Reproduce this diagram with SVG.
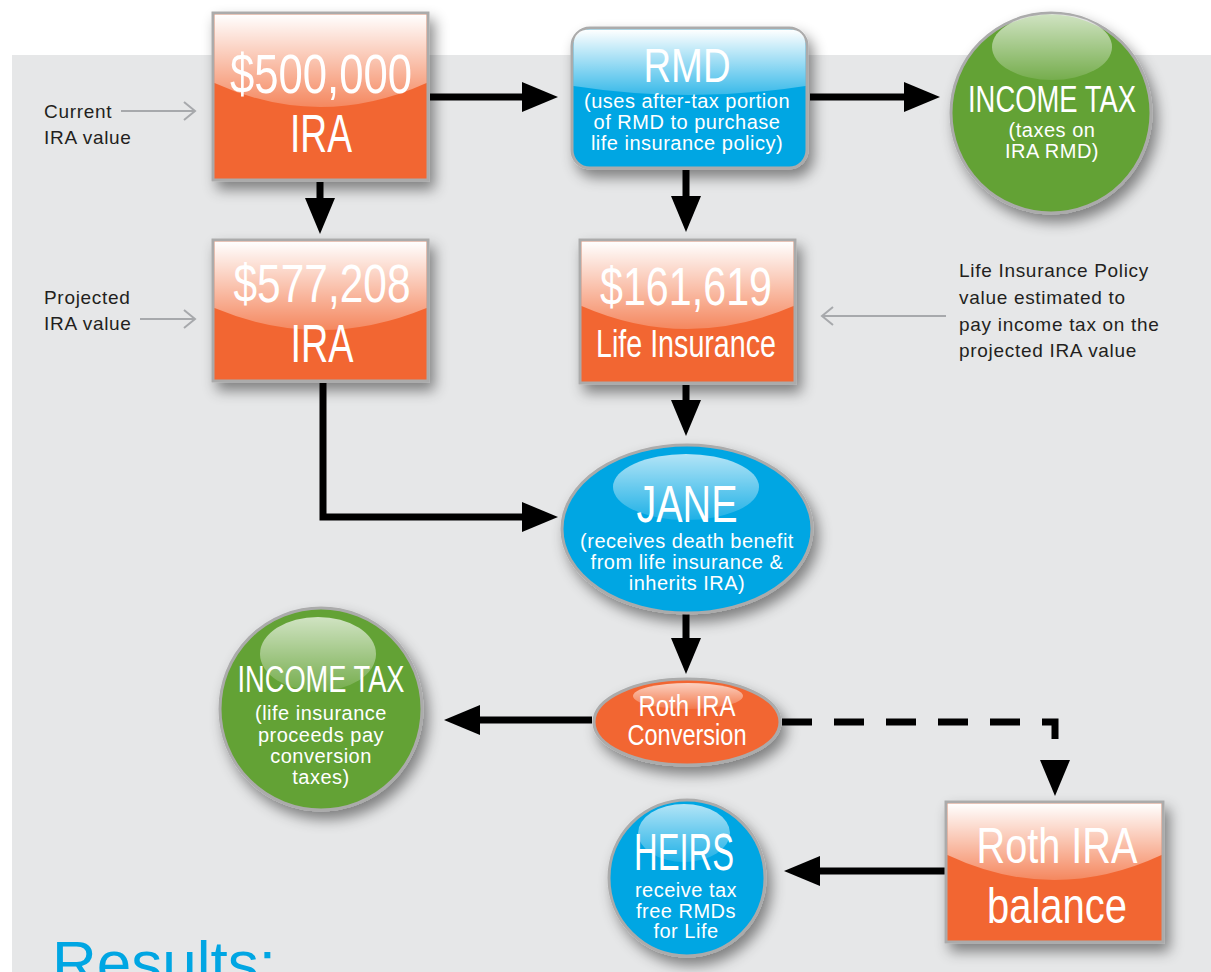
<svg xmlns="http://www.w3.org/2000/svg" width="1211" height="972" viewBox="0 0 1211 972">
  <style>
    .orange { fill: #F26633; stroke: #ABABAB; stroke-width: 3; }
    .blue { fill: #00A6E3; stroke: #ABABAB; stroke-width: 3; }
    .green { fill: #63A234; stroke: #ABABAB; stroke-width: 3; }
    .title { font-family: "Liberation Sans", Arial, sans-serif; fill: #FFFFFF; text-anchor: middle; }
    .sub { font-family: "Liberation Sans", Arial, sans-serif; fill: #FFFFFF; text-anchor: middle; font-size: 20px; letter-spacing: 0.5px; }
    .note { font-family: "Liberation Sans", Arial, sans-serif; fill: #231F20; font-size: 19px; letter-spacing: 0.7px; }
    .flow { fill: none; stroke: #000000; stroke-width: 7; marker-end: url(#head); }
    .pointer { fill: none; stroke: #A7A9AC; stroke-width: 2; marker-end: url(#chev); }
  </style>
  <defs>
    <filter id="shadow" x="-20%" y="-20%" width="150%" height="150%">
      <feDropShadow dx="5" dy="8" stdDeviation="7" flood-color="#000000" flood-opacity="0.45"/>
    </filter>
    <linearGradient id="gloss" x1="0" y1="0" x2="0" y2="1">
      <stop offset="0" stop-color="#FFFFFF" stop-opacity="1"/>
      <stop offset="1" stop-color="#FFFFFF" stop-opacity="0.22"/>
    </linearGradient>
    <linearGradient id="shine" x1="0" y1="0" x2="0" y2="1">
      <stop offset="0" stop-color="#FFFFFF" stop-opacity="0.7"/>
      <stop offset="1" stop-color="#FFFFFF" stop-opacity="0.12"/>
    </linearGradient>
    <marker id="head" markerUnits="userSpaceOnUse" markerWidth="38" markerHeight="30" refX="0" refY="15" orient="auto">
      <path d="M0,0 L36,15 L0,30 Z" fill="#000000"/>
    </marker>
    <marker id="chev" markerUnits="userSpaceOnUse" markerWidth="14" markerHeight="20" refX="12" refY="10" orient="auto">
      <path d="M1,1 L12,10 L1,19" fill="none" stroke="#A7A9AC" stroke-width="2"/>
    </marker>
  </defs>

  <!-- page -->
  <rect x="0" y="0" width="1211" height="972" fill="#FFFFFF"/>
  <rect x="12" y="55" width="1199" height="917" fill="#E6E7E8"/>

  <!-- side notes -->
  <g id="note-current">
    <text class="note" x="44" y="118">Current</text>
    <text class="note" x="44" y="144">IRA value</text>
    <path class="pointer" d="M121,111 H195"/>
  </g>
  <g id="note-projected">
    <text class="note" x="44" y="304">Projected</text>
    <text class="note" x="44" y="330">IRA value</text>
    <path class="pointer" d="M140,319 H195"/>
  </g>
  <g id="note-policy">
    <text class="note" x="959" y="277">Life Insurance Policy</text>
    <text class="note" x="959" y="304">value estimated to</text>
    <text class="note" x="959" y="331">pay income tax on the</text>
    <text class="note" x="959" y="357">projected IRA value</text>
    <path class="pointer" d="M946,316 H822"/>
  </g>

  <!-- connectors -->
  <g id="connectors">
    <path class="flow" d="M430,97 H522"/>
    <path class="flow" d="M810,97 H904"/>
    <path class="flow" d="M320,182 V198"/>
    <path class="flow" d="M686,170 V196"/>
    <path class="flow" d="M686,385 V400"/>
    <path class="flow" d="M323,383 V517 H522"/>
    <path class="flow" d="M686,614 V638"/>
    <path class="flow" d="M592,720 H480"/>
    <path class="flow" d="M782,722 H1055 V760" stroke-dasharray="30 22"/>
    <path class="flow" d="M946,871 H820"/>
  </g>

  <!-- current IRA -->
  <g id="ira-current">
    <rect class="orange" x="213" y="13" width="215" height="167" filter="url(#shadow)"/>
    <path d="M214.5,14.5 H426.5 V83 Q320,131 214.5,83 Z" fill="url(#gloss)"/>
    <text class="title" x="321" y="93" font-size="56" textLength="182" lengthAdjust="spacingAndGlyphs">$500,000</text>
    <text class="title" x="321" y="152" font-size="54" textLength="62" lengthAdjust="spacingAndGlyphs">IRA</text>
  </g>

  <!-- RMD -->
  <g id="rmd">
    <rect class="blue" x="572" y="28" width="235" height="140" rx="18" ry="18" filter="url(#shadow)"/>
    <path d="M590,29.5 H789 Q805.5,29.5 805.5,46 V86 Q690,104 573.5,86 V46 Q573.5,29.5 590,29.5 Z" fill="url(#gloss)"/>
    <text class="title" x="687" y="82" font-size="48" textLength="87" lengthAdjust="spacingAndGlyphs">RMD</text>
    <text class="sub" x="687" y="108">(uses after-tax portion</text>
    <text class="sub" x="687" y="129">of RMD to purchase</text>
    <text class="sub" x="687" y="150">life insurance policy)</text>
  </g>

  <!-- income tax on RMD -->
  <g id="tax-rmd">
    <circle class="green" cx="1051" cy="113" r="100" filter="url(#shadow)"/>
    <ellipse cx="1052" cy="47" rx="60" ry="33" fill="url(#shine)"/>
    <text class="title" x="1052" y="112" font-size="37" textLength="168" lengthAdjust="spacingAndGlyphs">INCOME TAX</text>
    <text class="sub" x="1052" y="137">(taxes on</text>
    <text class="sub" x="1052" y="158">IRA RMD)</text>
  </g>

  <!-- projected IRA -->
  <g id="ira-projected">
    <rect class="orange" x="213" y="240" width="215" height="141" filter="url(#shadow)"/>
    <path d="M214.5,241.5 H426.5 V308 Q320,352 214.5,308 Z" fill="url(#gloss)"/>
    <text class="title" x="322" y="302" font-size="54" textLength="177" lengthAdjust="spacingAndGlyphs">$577,208</text>
    <text class="title" x="322" y="362" font-size="54" textLength="63" lengthAdjust="spacingAndGlyphs">IRA</text>
  </g>

  <!-- life insurance -->
  <g id="life-insurance">
    <rect class="orange" x="580" y="240" width="215" height="143" filter="url(#shadow)"/>
    <path d="M581.5,241.5 H793.5 V306 Q687,352 581.5,306 Z" fill="url(#gloss)"/>
    <text class="title" x="686" y="305" font-size="54" textLength="172" lengthAdjust="spacingAndGlyphs">$161,619</text>
    <text class="title" x="686" y="357" font-size="38" textLength="180" lengthAdjust="spacingAndGlyphs">Life Insurance</text>
  </g>

  <!-- Jane -->
  <g id="jane">
    <ellipse class="blue" cx="687" cy="529" rx="125" ry="84" filter="url(#shadow)"/>
    <ellipse cx="686" cy="487" rx="73" ry="33" fill="url(#shine)"/>
    <text class="title" x="687" y="522" font-size="51" textLength="101" lengthAdjust="spacingAndGlyphs">JANE</text>
    <text class="sub" x="687" y="548">(receives death benefit</text>
    <text class="sub" x="687" y="569">from life insurance &amp;</text>
    <text class="sub" x="687" y="590">inherits IRA)</text>
  </g>

  <!-- Roth conversion -->
  <g id="roth-conversion">
    <ellipse class="orange" cx="687" cy="722" rx="93" ry="43" filter="url(#shadow)"/>
    <ellipse cx="688" cy="696" rx="55" ry="13" fill="url(#shine)"/>
    <text class="title" x="687" y="716" font-size="29" textLength="97" lengthAdjust="spacingAndGlyphs">Roth IRA</text>
    <text class="title" x="687" y="745" font-size="29" textLength="119" lengthAdjust="spacingAndGlyphs">Conversion</text>
  </g>

  <!-- conversion taxes -->
  <g id="tax-conversion">
    <circle class="green" cx="321" cy="709" r="101" filter="url(#shadow)"/>
    <ellipse cx="318" cy="654" rx="58" ry="37" fill="url(#shine)"/>
    <text class="title" x="321" y="692" font-size="36" textLength="167" lengthAdjust="spacingAndGlyphs">INCOME TAX</text>
    <text class="sub" x="321" y="720">(life insurance</text>
    <text class="sub" x="321" y="742">proceeds pay</text>
    <text class="sub" x="321" y="763">conversion</text>
    <text class="sub" x="321" y="784">taxes)</text>
  </g>

  <!-- heirs -->
  <g id="heirs">
    <circle class="blue" cx="687" cy="878" r="78" filter="url(#shadow)"/>
    <ellipse cx="684" cy="833" rx="46" ry="29" fill="url(#shine)"/>
    <text class="title" x="684" y="870" font-size="51" textLength="100" lengthAdjust="spacingAndGlyphs">HEIRS</text>
    <text class="sub" x="686" y="897">receive tax</text>
    <text class="sub" x="686" y="918">free RMDs</text>
    <text class="sub" x="686" y="938">for Life</text>
  </g>

  <!-- Roth balance -->
  <g id="roth-balance">
    <rect class="orange" x="946" y="802" width="217" height="140" filter="url(#shadow)"/>
    <path d="M947.5,803.5 H1161.5 V855 Q1054,905 947.5,855 Z" fill="url(#gloss)"/>
    <text class="title" x="1057" y="863" font-size="50" textLength="161" lengthAdjust="spacingAndGlyphs">Roth IRA</text>
    <text class="title" x="1057" y="923" font-size="50" textLength="140" lengthAdjust="spacingAndGlyphs">balance</text>
  </g>

  <!-- results heading -->
  <text x="52" y="984" font-family="Liberation Sans, Arial, sans-serif" font-size="62" fill="#00A6E3">Results:</text>
</svg>
